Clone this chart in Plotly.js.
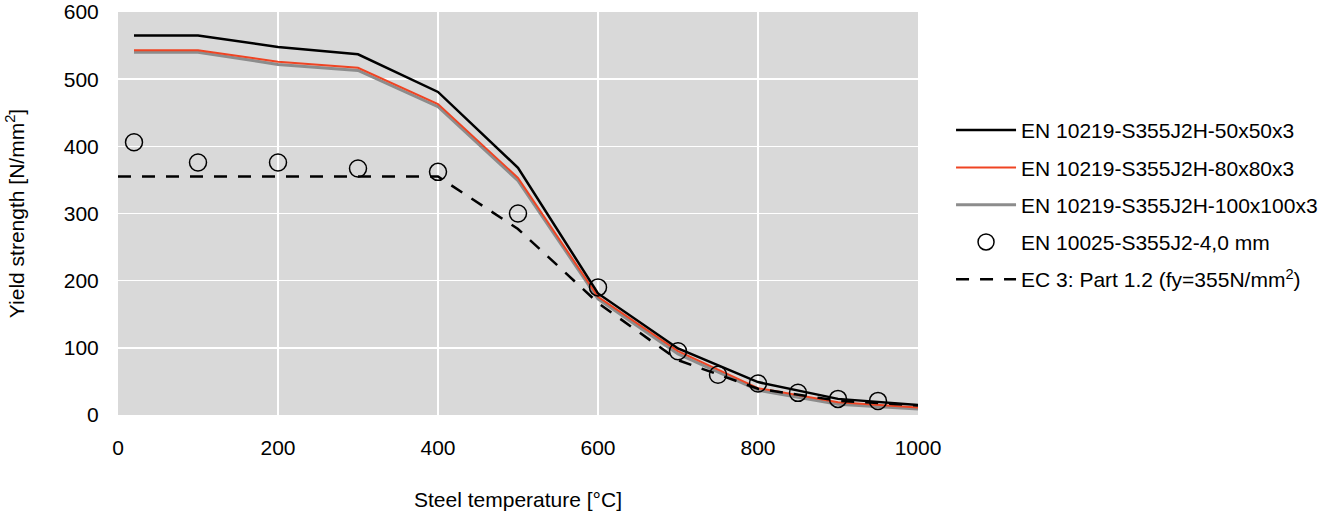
<!DOCTYPE html>
<html>
<head>
<meta charset="utf-8">
<script src="https://cdn.plot.ly/plotly-3.0.1.min.js"></script>
<style>html,body{margin:0;padding:0;background:#fff;}#chart{width:1334px;height:511px;}</style>
</head>
<body>
<div id="chart"></div>
<script>
// Temperatures [°C]
var tempLines = [20, 100, 200, 300, 400, 500, 600, 700, 800, 900, 1000];
// Yield strength [N/mm²]
var s50x50x3   = [565, 565, 548, 537, 481, 368, 181, 99, 49, 24, 15];
var s80x80x3   = [543, 543, 526, 517, 463, 353, 176, 95, 40, 19, 11];
var s100x100x3 = [540, 540, 522, 513, 459, 349, 173, 91, 37, 16, 9];

var tempTest = [20, 100, 200, 300, 400, 500, 600, 700, 750, 800, 850, 900, 950];
var sTest    = [406, 376, 376, 367, 362, 300, 190, 95, 60, 47, 33, 24, 21];

var tempEC3 = [0, 400, 500, 600, 700, 800, 900, 1000];
var sEC3    = [355, 355, 276.9, 166.9, 81.7, 39.1, 21.3, 14.2];

var names = [
  'EN 10219-S355J2H-50x50x3',
  'EN 10219-S355J2H-80x80x3',
  'EN 10219-S355J2H-100x100x3',
  'EN 10025-S355J2-4,0 mm',
  'EC 3: Part 1.2 (fy=355N/mm<sup>2</sup>)'
];

var font = 'Liberation Sans, Arial, sans-serif';
var fs = 21;

var traces = [
  {x: tempLines, y: s100x100x3, name: names[2], mode: 'lines', legendrank: 3, legendgroup: 'c',
   line: {color: '#8c8c8c', width: 3}},
  {x: tempLines, y: s80x80x3, name: names[1], mode: 'lines', legendrank: 2, legendgroup: 'b',
   line: {color: '#ef4423', width: 2}},
  {x: tempLines, y: s50x50x3, name: names[0], mode: 'lines', legendrank: 1, legendgroup: 'a',
   line: {color: '#000000', width: 2.5}},
  {x: tempEC3, y: sEC3, name: names[4], mode: 'lines', legendrank: 5, legendgroup: 'e',
   line: {color: '#000000', width: 2.5, dash: '13px,11px'}},
  {x: tempTest, y: sTest, name: names[3], mode: 'markers', legendrank: 4, legendgroup: 'd',
   marker: {symbol: 'circle-open', size: 17, color: '#000000', line: {width: 1.5, color: '#000000'}}}
];

var layout = {
  width: 1334, height: 511,
  margin: {l: 118, r: 415, t: 12, b: 96},
  paper_bgcolor: '#ffffff',
  plot_bgcolor: '#d9d9d9',
  font: {family: font, size: fs, color: '#000000'},
  showlegend: true,
  legend: {
    x: 1.04, y: 0.757, xanchor: 'left', yanchor: 'top',
    traceorder: 'grouped', tracegroupgap: 7, itemwidth: 60,
    font: {family: font, size: fs, color: '#000000'},
    bgcolor: 'rgba(0,0,0,0)'
  },
  xaxis: {
    range: [0, 1000], tickvals: [0, 200, 400, 600, 800, 1000],
    showgrid: true, gridcolor: '#ffffff', gridwidth: 1.5,
    zeroline: false, showline: false,
    ticks: 'outside', ticklen: 14, tickcolor: 'rgba(0,0,0,0)',
    tickfont: {family: font, size: fs},
    title: {text: 'Steel temperature [°C]', font: {family: font, size: fs}, standoff: 36},
    automargin: false
  },
  yaxis: {
    range: [0, 600], tickvals: [0, 100, 200, 300, 400, 500, 600],
    showgrid: true, gridcolor: '#ffffff', gridwidth: 1.5,
    zeroline: false, showline: false,
    ticks: 'outside', ticklen: 14, tickcolor: 'rgba(0,0,0,0)',
    tickfont: {family: font, size: fs},
    title: {text: 'Yield strength [N/mm<sup>2</sup>]', font: {family: font, size: fs}, standoff: 33},
    automargin: false
  }
};

Plotly.newPlot('chart', traces, layout, {displayModeBar: false, staticPlot: true});
</script>
</body>
</html>
